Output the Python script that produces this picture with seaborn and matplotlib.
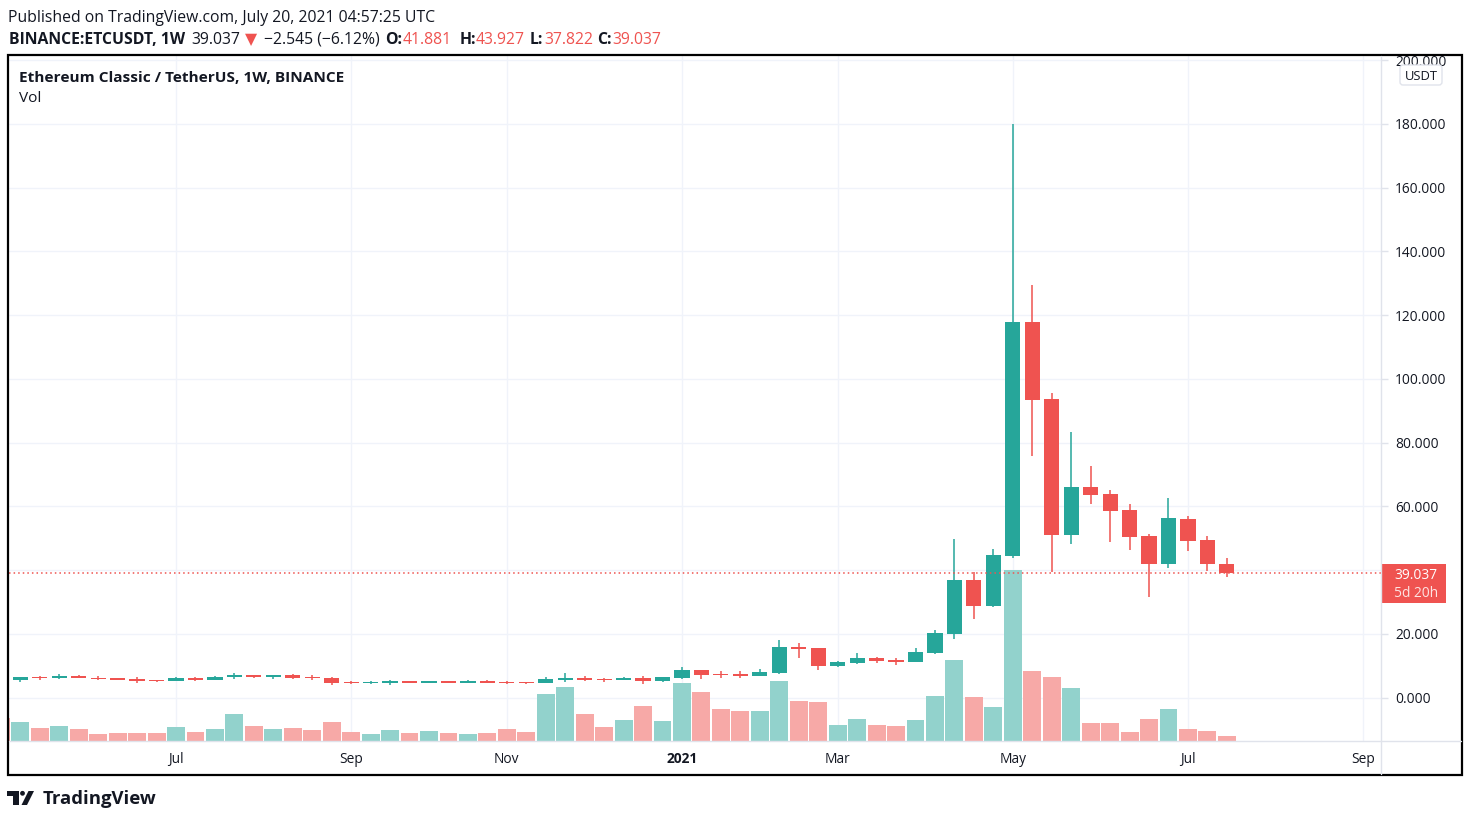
import matplotlib
matplotlib.use("Agg")
import matplotlib.pyplot as plt
import seaborn as sns
import numpy as np
import pandas as pd
from matplotlib.patches import Rectangle, FancyBboxPatch, Polygon, Circle

# weekly candles BINANCE:ETCUSDT, one per week starting 2020-05-04
opens = [7.0, 5.6, 6.5, 6.2, 6.8, 6.3, 6.1, 5.8, 5.6, 5.3, 6.2, 5.6, 6.4, 7.1, 6.5, 7.1,
         6.4, 6.3, 5.0, 4.6, 4.6, 5.2, 4.6, 5.2, 4.6, 5.2, 5.0, 5.0, 4.6, 5.6, 6.2, 5.9,
         5.6, 6.2, 5.2, 6.2, 8.7, 7.4, 7.4, 6.8, 7.8, 15.9, 15.6, 10.0, 10.9, 12.5, 11.8, 11.2,
         14.0, 20.0, 36.9, 28.8, 44.5, 117.9, 93.7, 51.0, 66.1, 63.9, 58.9, 50.7, 42.0, 56.1, 49.5, 41.881]
highs = [7.4, 6.6, 6.9, 7.4, 7.1, 6.8, 6.3, 6.4, 5.7, 6.5, 6.6, 6.9, 7.9, 7.2, 7.1, 7.3,
         7.1, 6.5, 5.2, 5.2, 5.6, 5.3, 5.3, 5.3, 5.6, 5.6, 5.2, 5.0, 6.5, 7.8, 6.8, 6.2,
         6.5, 6.8, 6.5, 9.6, 8.7, 8.3, 8.3, 9.0, 18.1, 17.1, 15.6, 11.6, 14.0, 12.8, 12.5, 15.6,
         21.2, 49.8, 39.4, 46.7, 180.0, 129.4, 95.6, 83.4, 72.7, 65.2, 60.8, 51.4, 62.7, 57.0, 50.7, 43.927]
lows = [5.5, 5.0, 5.7, 5.9, 6.1, 5.5, 5.5, 4.7, 5.0, 5.2, 5.2, 5.6, 5.9, 6.2, 5.9, 6.0,
        5.6, 4.0, 4.3, 4.3, 4.0, 4.5, 4.5, 4.5, 4.5, 4.5, 4.3, 4.3, 4.6, 4.9, 5.3, 4.9,
        5.6, 4.3, 4.9, 5.9, 5.9, 6.2, 6.2, 6.8, 7.4, 12.5, 8.7, 9.7, 10.6, 10.9, 10.3, 11.2,
        13.7, 18.4, 24.7, 28.5, 43.8, 75.8, 39.4, 48.2, 60.8, 48.9, 46.3, 31.6, 40.7, 46.0, 39.8, 37.822]
closes = [5.6, 6.5, 6.2, 6.8, 6.3, 5.9, 5.6, 5.2, 5.3, 6.2, 5.6, 6.5, 7.1, 6.5, 7.1, 6.2,
          6.1, 4.6, 4.6, 5.0, 5.2, 4.6, 5.2, 4.6, 5.2, 4.6, 4.6, 4.6, 5.9, 6.2, 5.6, 5.6,
          6.2, 5.2, 6.5, 8.7, 7.1, 7.1, 6.8, 8.0, 15.9, 15.3, 10.0, 11.2, 12.5, 11.5, 11.2, 14.3,
          20.3, 36.9, 28.8, 44.8, 117.9, 93.4, 51.0, 66.1, 63.6, 58.7, 50.4, 42.0, 56.4, 49.2, 41.9, 39.037]
volume_m = [2.3, 1.9, 1.3, 1.5, 1.2, 0.7, 0.8, 0.8, 0.8, 1.4, 0.9, 1.2, 2.7, 1.5, 1.2, 1.3,
            1.1, 1.9, 0.9, 0.7, 1.1, 0.8, 1.0, 0.8, 0.7, 0.8, 1.2, 0.9, 4.7, 5.4, 2.7, 1.4,
            2.1, 3.5, 2.0, 5.8, 4.9, 3.2, 3.0, 3.0, 6.0, 4.0, 3.9, 1.6, 2.2, 1.6, 1.5, 2.1,
            4.5, 8.1, 4.4, 3.4, 17.1, 7.0, 6.4, 5.3, 1.8, 1.8, 0.9, 2.2, 3.2, 1.2, 1.0, 0.5]
price_ticks = [0, 20, 40, 60, 80, 100, 120, 140, 160, 180, 200]
last_price = 39.037

UP, DOWN = "#26a69a", "#ef5350"
UP_VOL, DOWN_VOL = "#92d2cc", "#f7a9a7"
TXT = "#131722"
LINE = "#e0e3eb"
W, H = 1470, 822

weeks = pd.date_range("2020-05-04", periods=len(closes), freq="7D")
axis_weeks = pd.date_range("2020-05-04", "2021-09-06", freq="7D")

df = pd.DataFrame({"bar": np.arange(len(closes)), "open": opens, "high": highs,
                   "low": lows, "close": closes, "volume": volume_m})
df["dir"] = np.where(df["close"] >= df["open"], "up", "down")

sns.set_theme(style="white")
plt.rcParams['font.family'] = ['Open Sans', 'DejaVu Sans']

fig = plt.figure(figsize=(W / 100, H / 100), dpi=100)
renderer = fig.canvas.get_renderer()

def fr(px0, py0, px1, py1):
    return [px0 / W, 1 - py1 / H, (px1 - px0) / W, (py1 - py0) / H]

def fit_size(s, target_w, weight="normal", base=10.0):
    t = fig.text(0, 0, s, fontsize=base, fontweight=weight)
    w = t.get_window_extent(renderer).width
    t.remove()
    return base * target_w / w

rect = fr(9, 56, 1381, 741)
xlim = (0.418, 70.92)
ylim = (-13.57, 201.3)

# month ticks: first weekly bar of every odd month
month_pos, month_lab = [], []
seen = set()
for i, d in enumerate(axis_weeks):
    key = (d.year, d.month)
    if key in seen:
        continue
    seen.add(key)
    if d.month % 2 == 1 and i > 0:
        month_pos.append(i)
        month_lab.append(str(d.year) if d.month == 1 else d.strftime("%b"))

# grid pane (behind everything)
axg = fig.add_axes(rect, zorder=0)
axg.set_xlim(*xlim)
axg.set_ylim(*ylim)
axg.set_xticks(month_pos)
axg.set_yticks(price_ticks)
axg.grid(True, color="#f0f3fa", lw=1)
axg.tick_params(length=0, labelbottom=False, labelleft=False)
for s in axg.spines.values():
    s.set_visible(False)

# volume pane
axv = fig.add_axes(rect, zorder=1)
axv.patch.set_visible(False)
sns.barplot(data=df, x="bar", y="volume", hue="dir", palette={"up": UP_VOL, "down": DOWN_VOL},
            native_scale=True, dodge=False, width=0.92, saturation=1, errorbar=None,
            legend=False, orient="x", linewidth=0, ax=axv)
axv.set_xlim(*xlim)
axv.set_ylim(0, max(volume_m) * 685 / 171)
axv.axis("off")

# price pane
ax = fig.add_axes(rect, zorder=2)
ax.patch.set_visible(False)
colors = np.where(df["dir"] == "up", UP, DOWN)
ax.vlines(df["bar"], df["low"], df["high"], colors=colors, lw=1.1, zorder=3)
body_low = np.minimum(df["open"], df["close"])
body_h = np.maximum(np.abs(df["close"] - df["open"]), 0.3)
ax.bar(df["bar"], body_h, bottom=body_low, width=0.78, color=colors, linewidth=0, zorder=4)
ax.axhline(last_price, color=DOWN, lw=1.1, ls=(0, (1, 2)), zorder=5)

ax.set_xlim(*xlim)
ax.set_ylim(*ylim)
for s in ax.spines.values():
    s.set_visible(False)

tick_fs = fit_size("180.000", 51)
ax.yaxis.tick_right()
ax.set_yticks(price_ticks)
ax.set_yticklabels([f"{v:.3f}" for v in price_ticks])
ax.set_xticks(month_pos)
ax.set_xticklabels(month_lab)
for lab in ax.get_xticklabels():
    if lab.get_text().isdigit():
        lab.set_fontweight("bold")

ax.tick_params(axis="y", length=5, width=1, color=LINE, pad=5, labelsize=tick_fs, labelcolor=TXT)
ax.tick_params(axis="x", length=5, width=1, color=LINE, pad=3, labelsize=tick_fs, labelcolor=TXT)
ax.grid(False)

# overlay in pixel coordinates for frame, header, labels
ov = fig.add_axes([0, 0, 1, 1], zorder=10)
ov.set_xlim(0, W)
ov.set_ylim(H, 0)
ov.axis("off")
ov.patch.set_visible(False)

ov.add_patch(Rectangle((8, 55), 1454, 720, fill=False, ec="#000000", lw=1.6))
ov.plot([1381, 1381], [56, 774], color=LINE, lw=1)
ov.plot([9, 1461], [741, 741], color=LINE, lw=1)

# header
fs1 = fit_size("Published on TradingView.com, July 20, 2021 04:57:25 UTC", 426)
ov.text(8, 18, "Published on TradingView.com, July 20, 2021 04:57:25 UTC",
        fontsize=fs1, color=TXT, va="center", ha="left")
fs2 = fit_size("BINANCE:ETCUSDT, 1W", 176, weight="bold")
segments = [(9, "BINANCE:ETCUSDT, 1W", "bold", TXT), (191, "39.037", "normal", TXT),
            (245, "▼", "normal", DOWN), (264, "−2.545 (−6.12%)", "normal", TXT),
            (385, "O:", "bold", TXT), (403, "41.881", "normal", DOWN),
            (460, "H:", "bold", TXT), (476, "43.927", "normal", DOWN),
            (530, "L:", "bold", TXT), (544, "37.822", "normal", DOWN),
            (597, "C:", "bold", TXT), (612, "39.037", "normal", DOWN)]
for x0, s, wt, c in segments:
    ov.text(x0, 40, s, fontsize=fs2, fontweight=wt, color=c, va="center", ha="left")

fs3 = fit_size("Ethereum Classic / TetherUS, 1W, BINANCE", 324, weight="bold")
ov.text(19, 78, "Ethereum Classic / TetherUS, 1W, BINANCE", fontsize=fs3,
        fontweight="bold", color=TXT, va="center", ha="left")
ov.text(19, 99, "Vol", fontsize=fs3, color=TXT, va="center", ha="left")

# currency box
ov.add_patch(FancyBboxPatch((1400, 65), 42, 20, boxstyle="round,pad=0,rounding_size=3",
                            fc="white", ec=LINE, lw=1, zorder=3))
ov.text(1421, 76, "USDT", fontsize=tick_fs * 0.95, color=TXT, ha="center", va="center", zorder=4)

# last price label
ov.add_patch(Rectangle((1381, 564), 65, 39, color=DOWN, lw=0))
ov.text(1416, 575, f"{last_price:.3f}", fontsize=tick_fs, color="white", ha="center", va="center")
ov.text(1416, 593, "5d 20h", fontsize=tick_fs, color="#fde3e2", ha="center", va="center")

# TradingView logo
ov.add_patch(Polygon([(7.5, 791), (19.5, 791), (19.5, 805), (13.5, 805), (13.5, 795.5), (7.5, 795.5)],
                     closed=True, color=TXT, lw=0))
ov.add_patch(Circle((22.5, 793.3), 2.4, color=TXT, lw=0))
ov.add_patch(Polygon([(28.5, 791), (34, 791), (27, 805), (21.5, 805)], closed=True, color=TXT, lw=0))
fs4 = fit_size("TradingView", 113, weight="bold")
ov.text(43, 799, "TradingView", fontsize=fs4, fontweight="bold", color=TXT, va="center", ha="left")

fig.savefig("out.png", dpi=100, facecolor="white")
